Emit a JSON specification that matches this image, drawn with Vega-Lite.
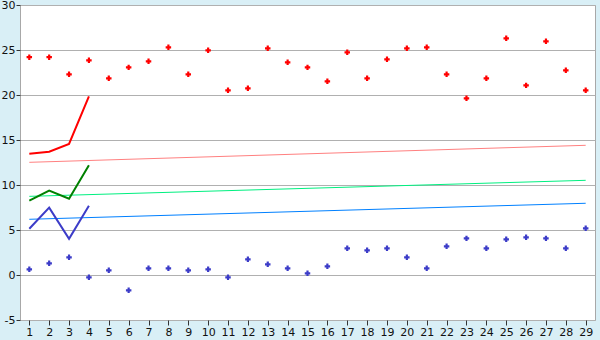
{
  "$schema": "https://vega.github.io/schema/vega-lite/v6.json",
  "width": 575,
  "height": 315,
  "autosize": {"type": "none"},
  "padding": {"left": 20, "top": 5, "right": 5, "bottom": 20},
  "background": "#d9eff6",
  "view": {"fill": "white", "stroke": "#a8a8a8", "strokeWidth": 1},
  "config": {
    "font": "DejaVu Sans",
    "axis": {"labelFont": "DejaVu Sans", "labelFontSize": 11, "labelColor": "#111111", "tickColor": "#333333", "domain": false, "gridColor": "#b0b0b0", "gridOpacity": 1}
  },
  "datasets": {
    "trend": [
      {"x": 1, "series": "redTrend", "y": 12.52},
      {"x": 29, "series": "redTrend", "y": 14.41},
      {"x": 1, "series": "greenTrend", "y": 8.74},
      {"x": 29, "series": "greenTrend", "y": 10.52},
      {"x": 1, "series": "blueTrend", "y": 6.19},
      {"x": 29, "series": "blueTrend", "y": 7.97}
    ],
    "lines": [
      {"x": 1, "series": "red", "y": 13.48},
      {"x": 2, "series": "red", "y": 13.7},
      {"x": 3, "series": "red", "y": 14.56},
      {"x": 4, "series": "red", "y": 19.85},
      {"x": 1, "series": "green", "y": 8.26},
      {"x": 2, "series": "green", "y": 9.37},
      {"x": 3, "series": "green", "y": 8.48},
      {"x": 4, "series": "green", "y": 12.2},
      {"x": 1, "series": "blue", "y": 5.14},
      {"x": 2, "series": "blue", "y": 7.48},
      {"x": 3, "series": "blue", "y": 4.03},
      {"x": 4, "series": "blue", "y": 7.7}
    ],
    "points": [
      {"x": 1, "series": "high", "y": 24.2}, {"x": 2, "series": "high", "y": 24.2}, {"x": 3, "series": "high", "y": 22.3},
      {"x": 4, "series": "high", "y": 23.85}, {"x": 5, "series": "high", "y": 21.85}, {"x": 6, "series": "high", "y": 23.07},
      {"x": 7, "series": "high", "y": 23.74}, {"x": 8, "series": "high", "y": 25.3}, {"x": 9, "series": "high", "y": 22.3},
      {"x": 10, "series": "high", "y": 24.96}, {"x": 11, "series": "high", "y": 20.52}, {"x": 12, "series": "high", "y": 20.74},
      {"x": 13, "series": "high", "y": 25.19}, {"x": 14, "series": "high", "y": 23.63}, {"x": 15, "series": "high", "y": 23.07},
      {"x": 16, "series": "high", "y": 21.52}, {"x": 17, "series": "high", "y": 24.74}, {"x": 18, "series": "high", "y": 21.85},
      {"x": 19, "series": "high", "y": 23.96}, {"x": 20, "series": "high", "y": 25.19}, {"x": 21, "series": "high", "y": 25.3},
      {"x": 22, "series": "high", "y": 22.3}, {"x": 23, "series": "high", "y": 19.63}, {"x": 24, "series": "high", "y": 21.85},
      {"x": 25, "series": "high", "y": 26.3}, {"x": 26, "series": "high", "y": 21.07}, {"x": 27, "series": "high", "y": 25.96},
      {"x": 28, "series": "high", "y": 22.74}, {"x": 29, "series": "high", "y": 20.52},
      {"x": 1, "series": "low", "y": 0.63}, {"x": 2, "series": "low", "y": 1.3}, {"x": 3, "series": "low", "y": 1.96},
      {"x": 4, "series": "low", "y": -0.26}, {"x": 5, "series": "low", "y": 0.52}, {"x": 6, "series": "low", "y": -1.7},
      {"x": 7, "series": "low", "y": 0.74}, {"x": 8, "series": "low", "y": 0.74}, {"x": 9, "series": "low", "y": 0.52},
      {"x": 10, "series": "low", "y": 0.63}, {"x": 11, "series": "low", "y": -0.26}, {"x": 12, "series": "low", "y": 1.74},
      {"x": 13, "series": "low", "y": 1.19}, {"x": 14, "series": "low", "y": 0.74}, {"x": 15, "series": "low", "y": 0.19},
      {"x": 16, "series": "low", "y": 0.96}, {"x": 17, "series": "low", "y": 2.96}, {"x": 18, "series": "low", "y": 2.74},
      {"x": 19, "series": "low", "y": 2.96}, {"x": 20, "series": "low", "y": 1.96}, {"x": 21, "series": "low", "y": 0.74},
      {"x": 22, "series": "low", "y": 3.19}, {"x": 23, "series": "low", "y": 4.07}, {"x": 24, "series": "low", "y": 2.96},
      {"x": 25, "series": "low", "y": 3.96}, {"x": 26, "series": "low", "y": 4.19}, {"x": 27, "series": "low", "y": 4.07},
      {"x": 28, "series": "low", "y": 2.96}, {"x": 29, "series": "low", "y": 5.19}
    ]
  },
  "encoding": {
    "x": {
      "field": "x", "type": "quantitative",
      "scale": {"domain": [0.532, 29.468], "nice": false, "zero": false},
      "axis": {"title": null, "values": [1,2,3,4,5,6,7,8,9,10,11,12,13,14,15,16,17,18,19,20,21,22,23,24,25,26,27,28,29], "grid": false, "tickSize": 5, "labelPadding": 1, "labelFlush": false, "labelOverlap": false}
    },
    "y": {
      "field": "y", "type": "quantitative",
      "scale": {"domain": [-5, 30], "nice": false, "zero": false},
      "axis": {"title": null, "values": [-5, 0, 5, 10, 15, 20, 25, 30], "grid": true, "tickSize": 4, "labelPadding": 1, "labelFlush": false, "labelExpr": "'' + datum.value"}
    }
  },
  "resolve": {"scale": {"color": "independent"}},
  "layer": [
    {
      "data": {"name": "trend"},
      "mark": {"type": "line", "strokeWidth": 1},
      "encoding": {
        "color": {"field": "series", "type": "nominal", "legend": null,
          "scale": {"domain": ["redTrend", "greenTrend", "blueTrend"], "range": ["#ff8080", "#00f080", "#0080ff"]}}
      }
    },
    {
      "data": {"name": "lines"},
      "mark": {"type": "line", "strokeWidth": 2},
      "encoding": {
        "color": {"field": "series", "type": "nominal", "legend": null,
          "scale": {"domain": ["red", "green", "blue"], "range": ["#ff0000", "#008000", "#3c3cc8"]}}
      }
    },
    {
      "data": {"name": "points"},
      "mark": {"type": "point", "shape": "cross", "filled": true, "size": 30, "opacity": 1},
      "encoding": {
        "color": {"field": "series", "type": "nominal", "legend": null,
          "scale": {"domain": ["high", "low"], "range": ["#ff0000", "#3c3cc8"]}}
      }
    }
  ]
}
